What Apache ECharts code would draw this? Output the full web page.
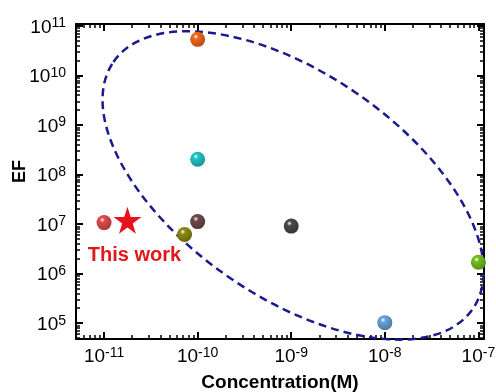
<!DOCTYPE html>
<html>
<head>
<meta charset="utf-8">
<script src="https://cdn.jsdelivr.net/npm/echarts@6/dist/echarts.min.js"></script>
<style>
  html, body { margin: 0; padding: 0; background: #fff; }
  #chart { width: 496px; height: 392px; }
</style>
</head>
<body>
<div id="chart"></div>
<script>
// values are log10 of the real numbers (log-log plot)
const logConc = [-11, -10.14, -10, -10, -10, -9, -8, -7];
const logEF = [7.03, 6.79, 7.05, 10.73, 8.31, 6.96, 5.01, 6.23];
const sphereColors = ['#e04a4c', '#8a8a12', '#6e4a48', '#f06818', '#20c4c6', '#484848', '#68a2d8', '#72c01c'];

const thisWorkConc = [-10.75];
const thisWorkEF = [7.08];

const xTickExp = [-11, -10, -9, -8, -7];
const yTickExp = [5, 6, 7, 8, 9, 10, 11];

// dashed ellipse centre (log units)
const ellipseCenter = [-8.98, 7.78];

const xMin = -11.3, xMax = -6.94;
const yMin = 4.68, yMax = 11.04;

function minorTicks(lo, hi) {
  const out = [];
  for (let n = Math.floor(lo); n <= Math.ceil(hi); n++) {
    for (let k = 2; k <= 9; k++) {
      const v = n + Math.log10(k);
      if (v > lo && v < hi) out.push(v);
    }
  }
  return out;
}

const chart = echarts.init(document.getElementById('chart'));

const supRich = {
  b: { fontSize: 19, lineHeight: 19, padding: [3, 0, 0, 0], color: '#000', fontFamily: 'Liberation Sans' },
  s: { fontSize: 14, lineHeight: 14, verticalAlign: 'top', color: '#000', fontFamily: 'Liberation Sans' }
};
const powLabel = v => '{b|10}{s|' + Math.round(v) + '}';

function makeAxis(pos, lo, hi, major, isMajor, withLabel) {
  return {
    type: 'value', position: pos, min: lo, max: hi,
    splitLine: { show: false },
    axisLine: { show: isMajor, onZero: false, lineStyle: { color: '#000', width: 2 } },
    axisTick: {
      show: true, inside: true,
      customValues: isMajor ? major : minorTicks(lo, hi),
      length: isMajor ? 7 : 4,
      lineStyle: { color: '#000', width: isMajor ? 2 : 1.5 }
    },
    axisLabel: withLabel
      ? { show: true, customValues: major, formatter: powLabel, rich: supRich, margin: pos === 'bottom' ? 7 : 10 }
      : { show: false }
  };
}

const xAxes = [
  makeAxis('bottom', xMin, xMax, xTickExp, true, true),
  makeAxis('bottom', xMin, xMax, xTickExp, false, false),
  makeAxis('top', xMin, xMax, xTickExp, true, false),
  makeAxis('top', xMin, xMax, xTickExp, false, false)
];
Object.assign(xAxes[0], {
  name: 'Concentration(M)', nameLocation: 'middle', nameGap: 34, nameMoveOverlap: false,
  nameTextStyle: { fontSize: 19, fontWeight: 'bold', color: '#000', fontFamily: 'Liberation Sans' }
});

const yAxes = [
  makeAxis('left', yMin, yMax, yTickExp, true, true),
  makeAxis('left', yMin, yMax, yTickExp, false, false),
  makeAxis('right', yMin, yMax, yTickExp, true, false),
  makeAxis('right', yMin, yMax, yTickExp, false, false)
];
Object.assign(yAxes[0], {
  name: 'EF', nameLocation: 'middle', nameGap: 47, nameMoveOverlap: false,
  nameTextStyle: { fontSize: 18, fontWeight: 'bold', color: '#000', fontFamily: 'Liberation Sans', padding: [0, 0, 0, 20] }
});

function shade(hex, f) {
  const n = parseInt(hex.slice(1), 16);
  const r = Math.round(((n >> 16) & 255) * f), g = Math.round(((n >> 8) & 255) * f), b = Math.round((n & 255) * f);
  return 'rgb(' + r + ',' + g + ',' + b + ')';
}

const sphereData = logConc.map((x, i) => ({
  value: [x, logEF[i]],
  itemStyle: {
    color: {
      type: 'radial', x: 0.38, y: 0.32, r: 0.75,
      colorStops: [
        { offset: 0, color: '#ffffff' },
        { offset: 0.22, color: sphereColors[i] },
        { offset: 1, color: shade(sphereColors[i], 0.72) }
      ]
    }
  }
}));

const option = {
  backgroundColor: '#fff',
  animation: false,
  grid: { left: 76, right: 12, top: 24, bottom: 53, containLabel: false, outerBoundsMode: 'none' },
  xAxis: xAxes,
  yAxis: yAxes,
  series: [
    {
      type: 'custom',
      coordinateSystem: 'cartesian2d',
      clip: false,
      silent: true,
      data: [ellipseCenter],
      renderItem: (params, api) => {
        const c = api.coord([api.value(0), api.value(1)]);
        return {
          type: 'ellipse',
          x: c[0], y: c[1],
          rotation: -34.5 * Math.PI / 180,
          shape: { cx: 0, cy: 0, rx: 218, ry: 112 },
          style: { fill: 'none', stroke: '#1a1a8c', lineWidth: 2.5, lineDash: [8, 5] }
        };
      },
      z: 1
    },
    {
      type: 'scatter',
      symbol: 'circle',
      symbolSize: 15,
      itemStyle: { opacity: 1 },
      data: sphereData,
      z: 3
    },
    {
      type: 'scatter',
      symbol: 'path://M50,0 L61,35 L98,35 L68,57 L79,91 L50,70 L21,91 L32,57 L2,35 L39,35 Z',
      symbolSize: [28, 27],
      itemStyle: { color: '#e8121c', opacity: 1 },
      data: thisWorkConc.map((x, i) => [x, thisWorkEF[i]]),
      label: {
        show: true, position: 'bottom', distance: 4, offset: [7, 8],
        formatter: 'This work',
        color: '#e01818', fontSize: 20, fontWeight: 'bold', fontFamily: 'Liberation Sans'
      },
      z: 3
    }
  ]
};

chart.setOption(option);
</script>
</body>
</html>
